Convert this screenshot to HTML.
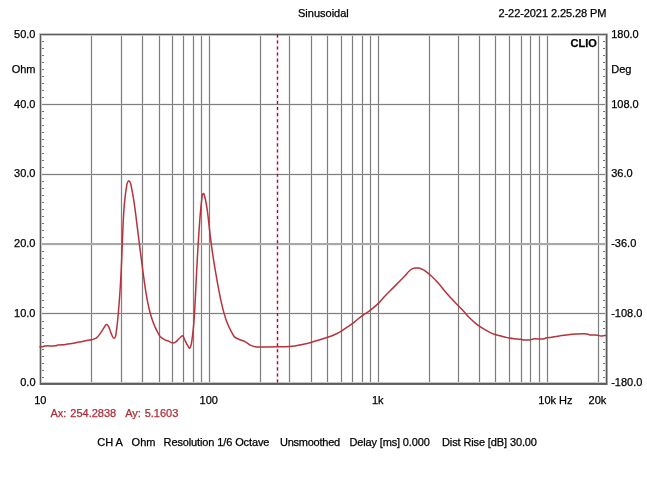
<!DOCTYPE html>
<html><head><meta charset="utf-8"><title>CLIO Impedance</title>
<style>html,body{margin:0;padding:0;background:#fff}body{width:647px;height:485px;position:relative;overflow:hidden}</style>
</head><body>
<svg width="647" height="485" viewBox="0 0 647 485" style="position:absolute;left:0;top:0"><path d="M277.5 35V383" stroke="#fcecef" stroke-width="3" fill="none"/><path d="M91.5 35V383M121.5 35V383M142.5 35V383M159.5 35V383M172.5 35V383M183.5 35V383M193.5 35V383M201.5 35V383M209.5 35V383M260.5 35V383M289.5 35V383M311.5 35V383M327.5 35V383M341.5 35V383M352.5 35V383M362.5 35V383M370.5 35V383M378.5 35V383M429.5 35V383M458.5 35V383M479.5 35V383M495.5 35V383M509.5 35V383M521.5 35V383M530.5 35V383M539.5 35V383M547.5 35V383M598.5 35V383M41 104.5H606M41 174.5H606M41 313.5H606M41 244H606" stroke="#f0f0f0" stroke-width="3" fill="none" shape-rendering="crispEdges"/><path d="M91.5 35V383M121.5 35V383M142.5 35V383M159.5 35V383M172.5 35V383M183.5 35V383M193.5 35V383M201.5 35V383M209.5 35V383M260.5 35V383M289.5 35V383M311.5 35V383M327.5 35V383M341.5 35V383M352.5 35V383M362.5 35V383M370.5 35V383M378.5 35V383M429.5 35V383M458.5 35V383M479.5 35V383M495.5 35V383M509.5 35V383M521.5 35V383M530.5 35V383M539.5 35V383M547.5 35V383M598.5 35V383M41 104.5H606M41 174.5H606M41 313.5H606" stroke="#7e7e7e" stroke-width="1" fill="none" shape-rendering="crispEdges"/><path d="M41 244H606" stroke="#a8a8a8" stroke-width="2" fill="none" shape-rendering="crispEdges"/><path d="M40 41.5H44M603 41.5H607M40 48.5H44M603 48.5H607M40 55.5H44M603 55.5H607M40 62.5H44M603 62.5H607M40 69.5H44M603 69.5H607M40 76.5H44M603 76.5H607M40 83.5H44M603 83.5H607M40 90.5H44M603 90.5H607M40 97.5H44M603 97.5H607M40 111.5H44M603 111.5H607M40 118.5H44M603 118.5H607M40 125.5H44M603 125.5H607M40 132.5H44M603 132.5H607M40 139.5H44M603 139.5H607M40 146.5H44M603 146.5H607M40 153.5H44M603 153.5H607M40 160.5H44M603 160.5H607M40 167.5H44M603 167.5H607M40 181.5H44M603 181.5H607M40 188.5H44M603 188.5H607M40 195.5H44M603 195.5H607M40 202.5H44M603 202.5H607M40 209.5H44M603 209.5H607M40 216.5H44M603 216.5H607M40 223.5H44M603 223.5H607M40 230.5H44M603 230.5H607M40 237.5H44M603 237.5H607M40 251.5H44M603 251.5H607M40 258.5H44M603 258.5H607M40 265.5H44M603 265.5H607M40 272.5H44M603 272.5H607M40 279.5H44M603 279.5H607M40 286.5H44M603 286.5H607M40 293.5H44M603 293.5H607M40 300.5H44M603 300.5H607M40 307.5H44M603 307.5H607M40 321.5H44M603 321.5H607M40 328.5H44M603 328.5H607M40 335.5H44M603 335.5H607M40 342.5H44M603 342.5H607M40 349.5H44M603 349.5H607M40 356.5H44M603 356.5H607M40 363.5H44M603 363.5H607M40 370.5H44M603 370.5H607M40 377.5H44M603 377.5H607" stroke="#707070" stroke-width="1" fill="none" shape-rendering="crispEdges"/><rect x="40.5" y="34.5" width="566" height="349" stroke="#c8c8c8" stroke-width="3" fill="none" shape-rendering="crispEdges"/><rect x="40.5" y="34.5" width="566" height="349" stroke="#5c5c5c" stroke-width="1" fill="none" shape-rendering="crispEdges"/><path d="M40 384.5H607" stroke="#666" stroke-width="1" fill="none" shape-rendering="crispEdges"/><path d="M607.5 34V385" stroke="#a8a8a8" stroke-width="1" fill="none" shape-rendering="crispEdges"/><path d="M277.5 34.4V384" stroke="#8a1830" stroke-width="1.3" stroke-dasharray="3.03 3.024" fill="none"/><path d="M40.00 346.80C40.77 346.80 41.54 346.93 42.30 346.80C43.08 346.67 43.53 346.19 44.60 346.00C46.87 345.60 53.23 346.16 55.50 345.80C56.57 345.63 56.80 345.30 57.80 345.10C59.60 344.75 63.37 344.69 65.50 344.40C67.02 344.19 67.99 343.90 69.40 343.70C71.05 343.46 73.17 343.40 74.80 343.10C76.19 342.84 77.26 342.39 78.60 342.10C80.08 341.78 81.75 341.60 83.30 341.30C84.85 341.00 86.49 340.56 87.90 340.30C89.09 340.08 90.18 340.02 91.20 339.80C92.10 339.61 92.91 339.36 93.70 339.10C94.44 338.86 95.13 338.70 95.80 338.30C96.54 337.86 97.24 337.19 97.90 336.50C98.62 335.74 99.24 334.82 99.90 333.90C100.61 332.92 101.31 331.84 102.00 330.80C102.68 329.77 103.31 328.73 104.00 327.70C104.70 326.66 105.41 324.77 106.20 324.60C106.80 324.47 107.57 325.11 108.10 325.70C108.81 326.49 109.20 328.04 109.70 329.30C110.23 330.64 110.67 332.16 111.20 333.50C111.70 334.76 112.18 336.20 112.80 337.10C113.25 337.76 113.86 338.67 114.30 338.60C114.82 338.52 115.27 337.04 115.60 336.00C116.04 334.61 116.17 332.45 116.40 330.90C116.59 329.60 116.74 328.59 116.90 327.30C117.08 325.82 117.23 324.36 117.42 322.50C117.69 319.91 118.00 316.66 118.30 313.20C118.68 308.84 119.14 303.23 119.50 298.40C119.84 293.77 120.13 289.43 120.41 284.80C120.70 279.97 120.97 275.11 121.22 270.00C121.49 264.51 121.76 257.88 121.96 252.90C122.12 249.03 122.22 246.19 122.35 242.60C122.50 238.66 122.68 233.77 122.83 230.20C122.94 227.48 123.01 225.64 123.14 223.00C123.31 219.76 123.55 215.30 123.75 212.20C123.91 209.85 124.04 208.07 124.22 206.00C124.39 203.93 124.60 201.65 124.79 199.80C124.95 198.29 125.08 197.15 125.26 195.70C125.46 194.07 125.72 192.13 125.96 190.50C126.17 189.05 126.39 187.67 126.61 186.40C126.80 185.29 126.79 184.25 127.17 183.30C127.55 182.35 128.34 180.69 128.90 180.70C129.45 180.71 130.10 182.30 130.51 183.30C131.00 184.48 131.13 185.89 131.45 187.40C131.85 189.25 132.29 191.53 132.67 193.60C133.04 195.66 133.37 197.73 133.69 199.80C134.02 201.87 134.31 203.93 134.60 206.00C134.89 208.07 135.15 210.09 135.43 212.20C135.72 214.41 135.97 216.43 136.29 219.00C136.71 222.35 137.28 227.01 137.72 230.60C138.11 233.71 138.44 236.41 138.81 239.30C139.17 242.18 139.53 245.03 139.89 247.90C140.26 250.77 140.62 253.63 140.99 256.50C141.36 259.39 141.74 262.31 142.12 265.20C142.49 268.08 142.86 270.93 143.25 273.80C143.63 276.67 144.06 279.84 144.42 282.40C144.71 284.47 144.93 286.00 145.24 288.00C145.59 290.30 146.02 293.04 146.42 295.40C146.79 297.56 147.12 299.45 147.55 301.60C148.02 303.96 148.59 306.65 149.16 309.00C149.68 311.16 150.20 313.14 150.81 315.20C151.43 317.28 152.09 319.35 152.84 321.40C153.61 323.48 154.50 325.67 155.37 327.60C156.16 329.35 156.97 330.93 157.82 332.50C158.63 333.99 159.28 335.65 160.35 336.80C161.36 337.88 162.65 338.56 164.00 339.30C165.50 340.12 167.42 340.75 169.00 341.40C170.41 341.98 171.82 342.96 173.00 343.00C173.92 343.03 174.72 342.67 175.50 342.20C176.40 341.66 177.17 340.61 178.00 339.80C178.84 338.98 179.67 338.01 180.50 337.30C181.23 336.67 182.06 335.54 182.70 335.70C183.56 335.91 184.11 338.61 184.80 340.00C185.45 341.31 186.05 342.59 186.70 343.80C187.32 344.95 188.04 346.29 188.60 347.10C188.96 347.62 189.28 348.33 189.60 348.30C189.96 348.27 190.32 347.30 190.60 346.60C190.99 345.63 191.23 344.32 191.50 342.90C191.86 341.00 192.16 338.50 192.45 336.20C192.76 333.77 193.05 331.13 193.30 328.70C193.53 326.41 193.72 324.13 193.89 322.00C194.05 320.05 194.18 318.28 194.30 316.40C194.43 314.51 194.54 312.74 194.66 310.70C194.80 308.33 194.94 305.93 195.09 303.00C195.29 299.11 195.54 293.83 195.76 289.40C195.97 285.17 196.20 280.41 196.37 277.00C196.48 274.61 196.55 273.34 196.67 270.90C196.86 267.26 197.23 260.41 197.40 257.30C197.49 255.68 197.52 255.22 197.61 253.60C197.79 250.49 198.22 243.29 198.43 240.00C198.54 238.13 198.59 237.33 198.71 235.60C198.87 233.11 199.12 229.31 199.32 226.50C199.50 224.07 199.66 221.86 199.83 219.70C199.98 217.74 200.12 216.06 200.28 214.10C200.47 211.94 200.68 209.57 200.91 207.30C201.13 205.03 201.39 202.55 201.63 200.50C201.82 198.82 201.93 197.11 202.19 195.90C202.36 195.09 202.47 194.29 202.80 193.90C203.01 193.65 203.37 193.42 203.60 193.50C203.93 193.62 204.11 194.46 204.37 195.20C204.80 196.46 205.23 198.55 205.63 200.50C206.12 202.86 206.63 205.86 207.02 208.40C207.38 210.75 207.64 212.93 207.92 215.20C208.20 217.47 208.44 219.73 208.70 222.00C208.95 224.27 209.19 226.53 209.44 228.80C209.69 231.07 209.96 233.46 210.21 235.60C210.43 237.50 210.63 239.12 210.87 241.00C211.13 243.04 211.39 245.10 211.71 247.40C212.08 250.08 212.53 253.20 212.97 256.10C213.41 259.00 213.86 261.81 214.35 264.80C214.87 267.99 215.47 271.52 216.02 274.70C216.53 277.67 217.05 280.54 217.55 283.30C218.01 285.86 218.47 288.33 218.92 290.70C219.34 292.89 219.72 294.84 220.17 297.00C220.65 299.30 221.12 301.60 221.71 304.10C222.38 306.93 223.21 310.32 224.01 313.10C224.71 315.54 225.36 317.65 226.17 319.90C226.98 322.18 227.91 324.55 228.88 326.70C229.78 328.70 230.75 330.63 231.73 332.40C232.62 334.01 233.26 335.76 234.47 336.90C235.64 338.00 237.20 338.47 238.80 339.20C240.66 340.05 243.01 340.59 245.00 341.60C247.05 342.64 249.04 344.53 250.90 345.40C252.37 346.08 253.55 346.44 255.10 346.70C256.93 347.01 258.61 346.86 261.20 346.90C265.75 346.96 274.84 346.90 280.00 346.80C283.61 346.73 286.52 346.69 289.20 346.50C291.30 346.35 292.81 346.21 294.80 345.90C297.10 345.54 299.64 344.95 302.20 344.40C304.99 343.80 308.13 343.11 310.90 342.40C313.48 341.74 315.75 341.09 318.30 340.30C321.07 339.44 324.14 338.36 326.90 337.40C329.49 336.50 331.95 335.78 334.40 334.70C336.91 333.59 339.37 332.25 341.80 330.80C344.31 329.30 346.89 327.40 349.20 325.80C351.26 324.38 353.41 322.97 355.00 321.70C356.20 320.74 356.83 319.97 358.00 319.00C359.52 317.75 361.49 316.28 363.40 314.90C365.50 313.39 367.81 312.04 370.10 310.30C372.69 308.33 375.63 305.98 378.10 303.60C380.52 301.27 382.43 298.69 384.80 296.20C387.34 293.53 390.21 290.79 392.90 288.10C395.57 285.43 398.61 282.44 400.90 280.10C402.66 278.31 404.09 276.84 405.50 275.30C406.76 273.92 407.83 272.42 409.00 271.30C410.00 270.35 410.94 269.45 412.00 268.90C412.95 268.40 413.99 268.15 415.00 268.00C415.99 267.85 417.01 267.89 418.00 268.00C419.01 268.12 420.02 268.35 421.00 268.70C422.02 269.07 423.02 269.60 424.00 270.20C425.03 270.83 426.01 271.64 427.00 272.40C428.01 273.17 428.79 273.71 430.00 274.80C432.10 276.69 435.53 280.15 438.20 283.10C441.00 286.20 443.62 289.80 446.40 293.00C449.12 296.13 451.91 299.16 454.70 302.10C457.41 304.96 460.35 307.68 462.90 310.40C465.25 312.91 467.10 315.40 469.50 317.80C472.04 320.34 475.11 323.19 477.80 325.20C480.05 326.88 481.94 327.92 484.40 329.30C487.33 330.95 491.40 333.20 494.30 334.30C496.41 335.10 498.20 335.35 500.00 335.80C501.61 336.21 503.06 336.52 504.60 336.90C506.16 337.29 507.73 337.78 509.30 338.10C510.83 338.41 512.23 338.61 513.90 338.80C515.88 339.03 518.69 339.05 520.40 339.30C521.53 339.46 522.07 339.78 523.20 339.90C524.91 340.08 527.73 340.13 529.70 339.90C531.38 339.70 532.48 338.99 534.30 338.80C536.85 338.53 541.43 339.42 543.60 339.00C544.84 338.76 545.28 338.09 546.40 337.80C547.92 337.40 550.33 337.45 552.00 337.20C553.37 337.00 554.47 336.70 555.70 336.50C556.91 336.30 557.90 336.21 559.30 336.00C561.25 335.71 563.74 335.23 566.30 334.90C569.40 334.51 573.15 334.07 576.60 333.90C580.05 333.73 584.71 333.48 587.00 333.90C588.18 334.12 588.48 334.67 589.60 334.90C591.48 335.29 595.32 334.93 597.40 335.20C598.81 335.39 599.73 335.93 600.90 336.00C602.06 336.06 603.46 335.68 604.40 335.60C605.04 335.54 605.47 335.53 606.00 335.50" stroke="#b8323b" stroke-width="1.5" fill="none" stroke-linejoin="round" stroke-linecap="round"/><g font-family="Liberation Sans, Arial, sans-serif" stroke-width="0.25"><text x="298" y="17" text-anchor="start" fill="#000" stroke="#000" font-weight="normal" font-size="11">Sinusoidal</text><text x="498.5" y="17" text-anchor="start" fill="#000" stroke="#000" font-weight="normal" font-size="11" letter-spacing="-0.08">2-22-2021 2.25.28 PM</text><text x="570.6" y="47.2" text-anchor="start" fill="#000" stroke="#000" font-weight="bold" font-size="11">CLIO</text><text x="35.5" y="38.1" text-anchor="end" fill="#000" stroke="#000" font-weight="normal" font-size="11">50.0</text><text x="611.2" y="38.1" text-anchor="start" fill="#000" stroke="#000" font-weight="normal" font-size="11">180.0</text><text x="35.5" y="107.7" text-anchor="end" fill="#000" stroke="#000" font-weight="normal" font-size="11">40.0</text><text x="611.2" y="107.7" text-anchor="start" fill="#000" stroke="#000" font-weight="normal" font-size="11">108.0</text><text x="35.5" y="177.3" text-anchor="end" fill="#000" stroke="#000" font-weight="normal" font-size="11">30.0</text><text x="611.2" y="177.3" text-anchor="start" fill="#000" stroke="#000" font-weight="normal" font-size="11">36.0</text><text x="35.5" y="246.9" text-anchor="end" fill="#000" stroke="#000" font-weight="normal" font-size="11">20.0</text><text x="611.2" y="246.9" text-anchor="start" fill="#000" stroke="#000" font-weight="normal" font-size="11">-36.0</text><text x="35.5" y="316.5" text-anchor="end" fill="#000" stroke="#000" font-weight="normal" font-size="11">10.0</text><text x="611.2" y="316.5" text-anchor="start" fill="#000" stroke="#000" font-weight="normal" font-size="11">-108.0</text><text x="35.5" y="386.1" text-anchor="end" fill="#000" stroke="#000" font-weight="normal" font-size="11">0.0</text><text x="611.2" y="386.1" text-anchor="start" fill="#000" stroke="#000" font-weight="normal" font-size="11">-180.0</text><text x="35.5" y="73" text-anchor="end" fill="#000" stroke="#000" font-weight="normal" font-size="11">Ohm</text><text x="611.2" y="72.8" text-anchor="start" fill="#000" stroke="#000" font-weight="normal" font-size="11">Deg</text><text x="40.3" y="404" text-anchor="middle" fill="#000" stroke="#000" font-weight="normal" font-size="11">10</text><text x="208.8" y="404" text-anchor="middle" fill="#000" stroke="#000" font-weight="normal" font-size="11">100</text><text x="377.8" y="404" text-anchor="middle" fill="#000" stroke="#000" font-weight="normal" font-size="11">1k</text><text x="538.3" y="404" text-anchor="start" fill="#000" stroke="#000" font-weight="normal" font-size="11">10k Hz</text><text x="597.4" y="404" text-anchor="middle" fill="#000" stroke="#000" font-weight="normal" font-size="11">20k</text><text x="50.4" y="417.3" text-anchor="start" fill="#b02a36" stroke="#b02a36" font-weight="normal" font-size="11">Ax:</text><text x="70.3" y="417.3" text-anchor="start" fill="#b02a36" stroke="#b02a36" font-weight="normal" font-size="11">254.2838</text><text x="125.2" y="417.3" text-anchor="start" fill="#b02a36" stroke="#b02a36" font-weight="normal" font-size="11">Ay:</text><text x="144.7" y="417.3" text-anchor="start" fill="#b02a36" stroke="#b02a36" font-weight="normal" font-size="11">5.1603</text><text x="97.2" y="445.5" text-anchor="start" fill="#000" stroke="#000" font-weight="normal" font-size="11">CH A</text><text x="131.6" y="445.5" text-anchor="start" fill="#000" stroke="#000" font-weight="normal" font-size="11">Ohm</text><text x="163.6" y="445.5" text-anchor="start" fill="#000" stroke="#000" font-weight="normal" font-size="11" letter-spacing="-0.12">Resolution 1/6 Octave</text><text x="280" y="445.5" text-anchor="start" fill="#000" stroke="#000" font-weight="normal" font-size="11" letter-spacing="-0.25">Unsmoothed</text><text x="349.5" y="445.5" text-anchor="start" fill="#000" stroke="#000" font-weight="normal" font-size="11" letter-spacing="-0.15">Delay [ms] 0.000</text><text x="442" y="445.5" text-anchor="start" fill="#000" stroke="#000" font-weight="normal" font-size="11" letter-spacing="-0.12">Dist Rise [dB] 30.00</text></g></svg>
</body></html>
